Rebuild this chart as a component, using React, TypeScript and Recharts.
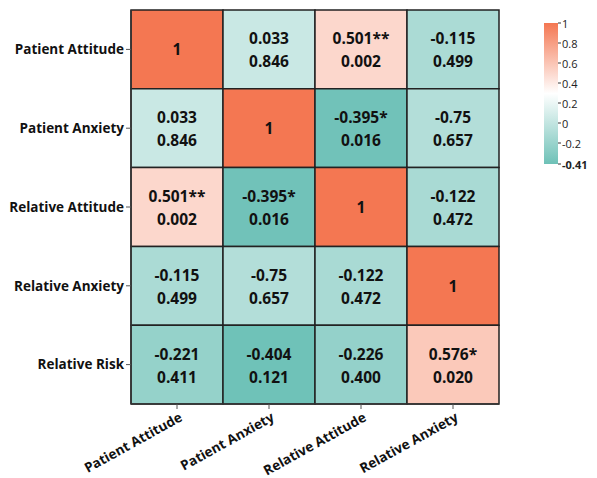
import React from "react";
import { ScatterChart, Scatter, XAxis, YAxis, ReferenceArea } from "recharts";

const rowNames = ["Patient Attitude", "Patient Anxiety", "Relative Attitude", "Relative Anxiety", "Relative Risk"];
const colNames = ["Patient Attitude", "Patient Anxiety", "Relative Attitude", "Relative Anxiety"];

// r values used for colour (row-major)
const rValues: number[][] = [
  [1, 0.033, 0.501, -0.115],
  [0.033, 1, -0.395, -0.075],
  [0.501, -0.395, 1, -0.122],
  [-0.115, -0.075, -0.122, 1],
  [-0.221, -0.404, -0.226, 0.576],
];
// r labels as printed
const rLabels: string[][] = [
  ["1", "0.033", "0.501**", "-0.115"],
  ["0.033", "1", "-0.395*", "-0.75"],
  ["0.501**", "-0.395*", "1", "-0.122"],
  ["-0.115", "-0.75", "-0.122", "1"],
  ["-0.221", "-0.404", "-0.226", "0.576*"],
];
const pLabels: (string | null)[][] = [
  [null, "0.846", "0.002", "0.499"],
  ["0.846", null, "0.016", "0.657"],
  ["0.002", "0.016", null, "0.472"],
  ["0.499", "0.657", "0.472", null],
  ["0.411", "0.121", "0.400", "0.020"],
];
const colorTicks = [1, 0.8, 0.6, 0.4, 0.2, 0, -0.2, -0.41];
const colorTickLabels = ["1", "0.8", "0.6", "0.4", "0.2", "0", "-0.2", "-0.41"];
const colorMin = -0.41;
const colorMax = 1;
const colorMid = (colorMin + colorMax) / 2;

const HIGH = [244, 119, 82];
const LOW = [110, 193, 183];
const WHITE = [255, 255, 255];

function mix(a: number[], b: number[], t: number) {
  const c = a.map((v, i) => Math.round(v + (b[i] - v) * t));
  return `rgb(${c[0]},${c[1]},${c[2]})`;
}
function colorFor(v: number) {
  const x = Math.max(colorMin, Math.min(colorMax, v));
  if (x >= colorMid) return mix(WHITE, HIGH, (x - colorMid) / (colorMax - colorMid));
  return mix(WHITE, LOW, (colorMid - x) / (colorMid - colorMin));
}

const cells: { x: number; y: number; r: string; p: string | null; v: number; ri: number; ci: number }[] = [];
rowNames.forEach((_, ri) =>
  colNames.forEach((__, ci) =>
    cells.push({ x: ci + 0.5, y: ri + 0.5, r: rLabels[ri][ci], p: pLabels[ri][ci], v: rValues[ri][ci], ri, ci })
  )
);

const FONT = "'Open Sans', 'DejaVu Sans', sans-serif";
const W = 580;
const H = 470;

const CellText = (props: any) => {
  const { cx, cy, payload } = props;
  if (cx == null || cy == null) return null;
  const style = { fontFamily: FONT, fontWeight: 700, fontSize: 15.5, fill: "#111" } as any;
  if (!payload.p) {
    return (
      <text x={cx} y={cy} textAnchor="middle" dominantBaseline="central" style={style}>
        {payload.r}
      </text>
    );
  }
  return (
    <g>
      <text x={cx} y={cy - 11} textAnchor="middle" dominantBaseline="central" style={style}>
        {payload.r}
      </text>
      <text x={cx} y={cy + 12} textAnchor="middle" dominantBaseline="central" style={style}>
        {payload.p}
      </text>
    </g>
  );
};

const XTick = (props: any) => {
  const { x, y, payload } = props;
  return (
    <g transform={`translate(${x},${y})`}>
      <text
        x={1}
        y={11}
        textAnchor="end"
        transform="rotate(-29)"
        style={{ fontFamily: FONT, fontWeight: 700, fontSize: 13.5, fill: "#111" }}
      >
        {colNames[Math.floor(payload.value)]}
      </text>
    </g>
  );
};

const ColorBar = () => {
  const bx = 536;
  const bw = 14;
  const top = 15;
  const h = 141;
  const yOf = (v: number) => top + ((colorMax - v) / (colorMax - colorMin)) * h;
  const midOff = (colorMax - colorMid) / (colorMax - colorMin);
  return (
    <svg width={W} height={H} style={{ position: "absolute", left: 0, top: 0, pointerEvents: "none" }}>
      <defs>
        <linearGradient id="cb" x1="0" y1="0" x2="0" y2="1">
          <stop offset="0" stopColor={colorFor(colorMax)} />
          <stop offset={midOff} stopColor="#ffffff" />
          <stop offset="1" stopColor={colorFor(colorMin)} />
        </linearGradient>
      </defs>
      <rect x={bx} y={top} width={bw} height={h} fill="url(#cb)" />
      {colorTicks.map((t, i) => (
        <g key={i}>
          <line x1={bx + bw} x2={bx + bw + 3} y1={yOf(t)} y2={yOf(t)} stroke="#333" strokeWidth={1} />
          <text
            x={bx + bw + 4}
            y={yOf(t)}
            dominantBaseline="central"
            style={{
              fontFamily: FONT,
              fontSize: 11,
              fontWeight: i === colorTicks.length - 1 ? 700 : 400,
              fill: "#222",
            }}
          >
            {colorTickLabels[i]}
          </text>
        </g>
      ))}
    </svg>
  );
};

export default function App() {
  return (
    <div style={{ position: "relative", width: W, height: H, background: "#fff" }}>
      <ScatterChart width={W} height={H} margin={{ top: 2, right: W - 491, left: 0, bottom: 0 }}>
        <XAxis
          type="number"
          dataKey="x"
          domain={[0, 4]}
          ticks={[0.5, 1.5, 2.5, 3.5]}
          height={H - 396}
          axisLine={{ stroke: "#333", strokeWidth: 1.5 }}
          tickLine={{ stroke: "#555" }}
          tickSize={5}
          tick={<XTick />}
          interval={0}
        />
        <YAxis
          type="number"
          dataKey="y"
          domain={[0, 5]}
          reversed
          ticks={[0.5, 1.5, 2.5, 3.5, 4.5]}
          width={123}
          axisLine={{ stroke: "#333", strokeWidth: 1.5 }}
          tickLine={{ stroke: "#555" }}
          tickSize={5}
          interval={0}
          tickFormatter={(v: number) => rowNames[Math.floor(v)]}
          tick={{ fontFamily: FONT, fontWeight: 700, fontSize: 13.5, fill: "#111" }}
        />
        {cells.map((c, i) => (
          <ReferenceArea
            key={i}
            x1={c.ci}
            x2={c.ci + 1}
            y1={c.ri}
            y2={c.ri + 1}
            fill={colorFor(c.v)}
            fillOpacity={1}
            stroke="#222"
            strokeWidth={1.5}
            strokeOpacity={1}
            ifOverflow="visible"
          />
        ))}
        <Scatter data={cells} shape={<CellText />} isAnimationActive={false} />
      </ScatterChart>
      <ColorBar />
    </div>
  );
}
